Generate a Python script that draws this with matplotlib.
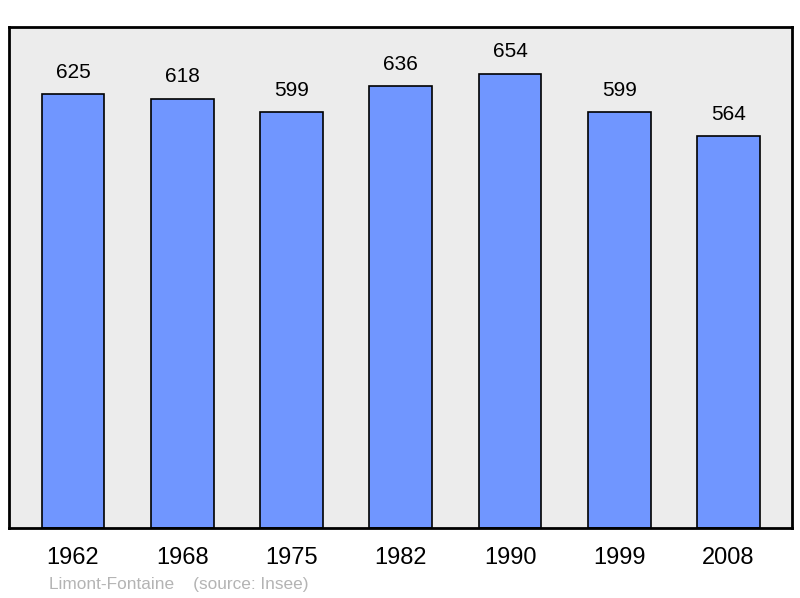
import matplotlib
matplotlib.use('Agg')
from matplotlib import pyplot as plt

years = ['1962', '1968', '1975', '1982', '1990', '1999', '2008']
population = [625, 618, 599, 636, 654, 599, 564]

plt.rcParams['font.family'] = ['Liberation Sans', 'DejaVu Sans']

fig = plt.figure(figsize=(8, 5.98), dpi=100)
ax = fig.add_axes([9 / 800, 1 - 528 / 598, 783 / 800, 501 / 598])
ax.set_facecolor('#ececec')

x = range(len(years))
ax.bar(x, population, width=0.575, color='#7096ff', edgecolor='black', linewidth=1.2, zorder=2)
for xi, v in zip(x, population):
    ax.annotate(str(v), (xi, v), xytext=(0, 9), textcoords='offset points',
                ha='center', va='bottom', fontsize=15)

ax.set_xlim(-0.585, 6.58)
ax.set_ylim(0, 721.5)
ax.set_yticks([])
ax.set_xticks(list(x))
ax.set_xticklabels(years, fontsize=17)
ax.tick_params(axis='x', length=0, pad=13.5)
for s in ax.spines.values():
    s.set_linewidth(2)

fig.text(49 / 800, 1 - 584 / 598, 'Limont-Fontaine    (source: Insee)',
         color='#b4b4b4', fontsize=12.4, va='center', ha='left')

fig.savefig('out.png', dpi=100)
